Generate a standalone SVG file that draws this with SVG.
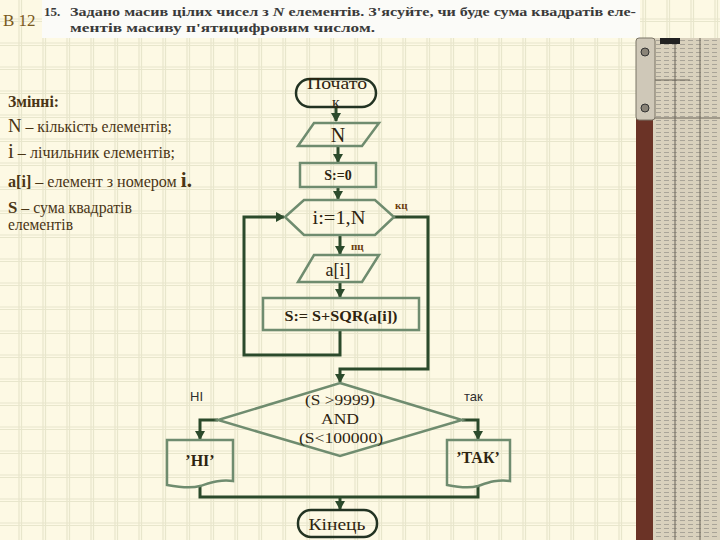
<svg xmlns="http://www.w3.org/2000/svg" width="720" height="540" viewBox="0 0 720 540">
<style>
.ln{fill:none;stroke:#2b4a2b;stroke-width:3}
.sh{fill:none;stroke:#6f8c6f;stroke-width:2.5}
.tm{fill:none;stroke:#223322;stroke-width:2.5}
.t{font-family:"Liberation Serif","Times New Roman","DejaVu Serif",serif;fill:#2e2410;text-anchor:middle}
.lt{font-family:"Liberation Serif","Times New Roman","DejaVu Serif",serif;fill:#4a3515;font-size:16px}
.lab{font-family:"Liberation Serif","DejaVu Serif",serif;fill:#6b3d0f;font-size:11px;font-weight:bold}
.sans{font-family:"Liberation Sans","DejaVu Sans",sans-serif;fill:#2e2e2e;font-size:13px}
.hd{font-family:"Liberation Serif","DejaVu Serif",serif;fill:#3a3a3a;font-size:13px;font-weight:bold}
</style>
<defs>
<pattern id="grid" patternUnits="userSpaceOnUse" x="0" y="0" width="24" height="24">
<rect width="24" height="24" fill="#fdf9e4"/>
<path d="M19,0V24M21.5,0V24M0,19H24M0,21.5H24" stroke="#e8e6cc" stroke-width="1.2"/>
</pattern>
<marker id="ar" markerWidth="10" markerHeight="10" refX="8" refY="5" orient="auto" markerUnits="userSpaceOnUse">
<path d="M0,0L9,5L0,10Z" fill="#2b4a2b"/>
</marker>
<pattern id="ticks" patternUnits="userSpaceOnUse" x="0" y="0" width="8" height="4">
<path d="M0,0.5H5" stroke="#666" stroke-width="0.7"/>
</pattern>
</defs>
<rect width="720" height="540" fill="url(#grid)"/>
<!-- header -->
<rect x="42" y="0" width="598" height="38" fill="#fbfbf8"/>
<text x="3" y="26" font-family="Liberation Serif,serif" font-size="17" fill="#7a5a20">В 12</text>
<text class="hd" x="44" y="16" font-size="14">15.</text>
<text class="hd" x="70" y="16" textLength="566" lengthAdjust="spacingAndGlyphs">Задано масив цілих чисел з <tspan font-style="italic">N</tspan> елементів. З'ясуйте, чи буде сума квадратів еле-</text>
<text class="hd" x="70" y="32" textLength="305" lengthAdjust="spacingAndGlyphs">ментів масиву п'ятицифровим числом.</text>
<!-- slide rule -->
<g id="ruler">
<rect x="652" y="38" width="68" height="502" fill="#d9d1bd"/>
<rect x="652" y="38" width="68" height="502" fill="url(#ticks)" opacity="0.6"/>
<rect x="636" y="118" width="17" height="422" fill="#6b3326"/>
<rect x="636" y="38" width="19" height="82" rx="3" fill="#cfc8b8" stroke="#7a7466"/>
<circle cx="645" cy="52" r="4" fill="#8a8478" stroke="#333"/>
<circle cx="645" cy="108" r="4" fill="#8a8478" stroke="#333"/>
<path d="M655,118H720M655,80H690M675,38V540M700,38V540" stroke="#6a6458" stroke-width="1"/>
<path d="M660,38H680V44H660Z" fill="#222"/>
</g>
<!-- variables -->
<g id="legend">
<text class="lt" x="8" y="107" font-weight="bold" textLength="51" lengthAdjust="spacingAndGlyphs">Змінні:</text>
<text class="lt" x="8" y="132" textLength="164" lengthAdjust="spacingAndGlyphs"><tspan font-size="19">N</tspan> – кількість елементів;</text>
<text class="lt" x="8" y="158" textLength="167" lengthAdjust="spacingAndGlyphs"><tspan font-size="21">і</tspan> – лічильник елементів;</text>
<text class="lt" x="8" y="187" textLength="184" lengthAdjust="spacingAndGlyphs"><tspan font-weight="bold">a[i]</tspan> – елемент з номером <tspan font-size="21" font-weight="bold">і.</tspan></text>
<text class="lt" x="8" y="213" textLength="124" lengthAdjust="spacingAndGlyphs"><tspan font-weight="bold" font-size="17">S</tspan> – сума квадратів</text>
<text class="lt" x="8" y="230" textLength="65" lengthAdjust="spacingAndGlyphs">елементів</text>
</g>
<!-- connectors -->
<g id="connectors">
<path class="ln" d="M336,107V121" marker-end="url(#ar)"/>
<path class="ln" d="M338,146V162" marker-end="url(#ar)"/>
<path class="ln" d="M338,187V199" marker-end="url(#ar)"/>
<path class="ln" d="M340,235V254" marker-end="url(#ar)"/>
<path class="ln" d="M340,282V297" marker-end="url(#ar)"/>
<path class="ln" d="M340,330V355H244V217H284" marker-end="url(#ar)"/>
<path class="ln" d="M394,217H428V369H340V382" marker-end="url(#ar)"/>
<path class="ln" d="M218,420H200V439" marker-end="url(#ar)"/>
<path class="ln" d="M462,420H478V439" marker-end="url(#ar)"/>
<path class="ln" d="M200,485V497H478V486"/>
<path class="ln" d="M340,497V509" marker-end="url(#ar)"/>
<text class="lab" x="395" y="209">кц</text>
<text class="lab" x="351" y="250">пц</text>
<text class="sans" x="190" y="401">НІ</text>
<text class="sans" x="464" y="401">так</text>
</g>
<g id="start">
<rect class="tm" x="296" y="79" width="80" height="28" rx="14"/>
<text class="t" x="337" y="89" font-size="16" textLength="60" lengthAdjust="spacingAndGlyphs">Почато</text>
<text class="t" x="336" y="108" font-size="16">к</text>
</g>
<g id="inputN">
<polygon class="sh" points="314,123 379,123 362,146 298,146"/>
<text class="t" x="338" y="142" font-size="20">N</text>
</g>
<g id="init">
<rect class="sh" x="300" y="163" width="76" height="24"/>
<text class="t" x="338" y="180" font-size="14" font-weight="bold">S:=0</text>
</g>
<g id="loop">
<polygon class="sh" points="285,217 304,200 375,200 394,217 375,235 304,235"/>
<text class="t" x="339" y="224" font-size="18" textLength="53" lengthAdjust="spacingAndGlyphs">i:=1,N</text>
</g>
<g id="inputA">
<polygon class="sh" points="314,255 379,255 362,282 298,282"/>
<text class="t" x="338" y="276" font-size="18">a[i]</text>
</g>
<g id="sum">
<rect class="sh" x="263" y="298" width="156" height="32"/>
<text class="t" x="341" y="321" font-size="15" font-weight="bold" textLength="113" lengthAdjust="spacingAndGlyphs">S:= S+SQR(a[i])</text>
</g>
<g id="decision">
<polygon class="sh" points="340,383 462,420 340,456 218,420"/>
<text class="t" x="340" y="405" font-size="15" textLength="70" lengthAdjust="spacingAndGlyphs">(S &gt;9999)</text>
<text class="t" x="340" y="424" font-size="15" textLength="38" lengthAdjust="spacingAndGlyphs">AND</text>
<text class="t" x="341" y="443" font-size="15" textLength="84" lengthAdjust="spacingAndGlyphs">(S&lt;100000)</text>
</g>
<g id="outNo">
<path class="sh" d="M167,440H233V481C220,479 210,483 200,486C190,489 178,487 167,485Z"/>
<text class="t" x="200" y="466" font-size="16" font-weight="bold">’НІ’</text>
</g>
<g id="outYes">
<path class="sh" d="M447,440H510V481C497,479 487,483 478,486C468,489 457,487 447,485Z"/>
<text class="t" x="478" y="463" font-size="16" font-weight="bold">’ТАК’</text>
</g>
<g id="end">
<rect class="tm" x="298" y="510" width="79" height="27" rx="13"/>
<text class="t" x="337" y="530" font-size="17" textLength="57" lengthAdjust="spacingAndGlyphs">Кінець</text>
</g>
</svg>
